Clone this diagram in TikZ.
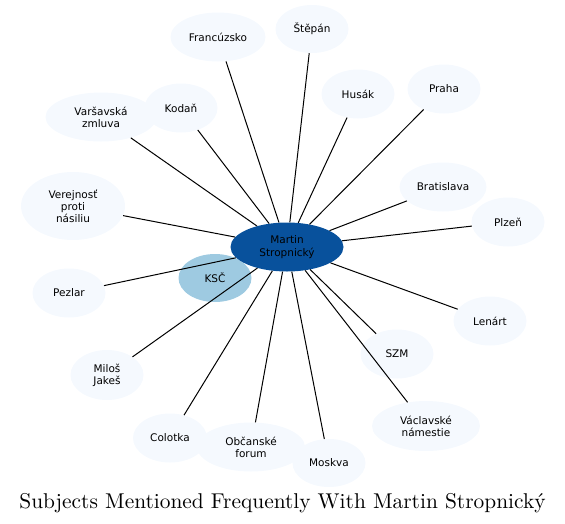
\documentclass[tikz,border=0pt]{standalone}
\usepackage{fontspec}
\setsansfont{DejaVu Sans}
\newfontfamily\titlefont{lmroman10-regular.otf}
\usetikzlibrary{shapes.geometric}
\definecolor{lightnode}{HTML}{F5F9FE}
\definecolor{midnode}{HTML}{9ECAE1}
\definecolor{darknode}{HTML}{08519C}
\tikzset{
  ent/.style={ellipse, draw=none, fill=lightnode, inner sep=0pt, align=center,
    font=\sffamily\fontsize{10.5}{12.2}\selectfont, text=black},
  link/.style={draw=black, line width=1pt}
}
\begin{document}
\begin{tikzpicture}[x=1pt,y=-1pt]
\useasboundingbox (0,0) rectangle (565,523);
\node[ent, fill=midnode, minimum width=73pt, minimum height=48pt] (ksc) at (215,278) {KSČ};
\node[ent, fill=darknode, minimum width=113pt, minimum height=49pt] (c) at (287,247) {Martin\\Stropnický};
\node[ent, minimum width=95pt, minimum height=49pt] (fr) at (218,37) {Francúzsko};
\node[ent, minimum width=73pt, minimum height=48pt] (st) at (312,29) {Štěpán};
\node[ent, minimum width=111pt, minimum height=49pt] (va) at (101,117) {Varšavská\\zmluva};
\node[ent, minimum width=73pt, minimum height=49pt] (ko) at (181,108) {Kodaň};
\node[ent, minimum width=104pt, minimum height=68pt] (ve) at (73,206) {Verejnosť\\proti\\násiliu};
\node[ent, minimum width=73pt, minimum height=49pt] (hu) at (358,94) {Husák};
\node[ent, minimum width=73pt, minimum height=49pt] (pr) at (444,89) {Praha};
\node[ent, minimum width=87pt, minimum height=49pt] (br) at (443,187) {Bratislava};
\node[ent, minimum width=73pt, minimum height=49pt] (pl) at (508,222) {Plzeň};
\node[ent, minimum width=73pt, minimum height=49pt] (pe) at (69,293) {Pezlar};
\node[ent, minimum width=73pt, minimum height=50pt] (mj) at (107,375) {Miloš\\Jakeš};
\node[ent, minimum width=74pt, minimum height=49pt] (co) at (170,438) {Colotka};
\node[ent, minimum width=108pt, minimum height=49pt] (of) at (251,447) {Občanské\\forum};
\node[ent, minimum width=73pt, minimum height=48pt] (mo) at (329,463) {Moskva};
\node[ent, minimum width=73pt, minimum height=49pt] (le) at (490,321) {Lenárt};
\node[ent, minimum width=73pt, minimum height=49pt] (sz) at (397,354) {SZM};
\node[ent, minimum width=108pt, minimum height=50pt] (vn) at (426,426) {Václavské\\námestie};
\foreach \n in {fr,st,va,ko,ve,hu,pr,br,pl,pe,mj,co,of,mo,le,sz,vn}
  \draw[link] (c) -- (\n);
\node[font=\titlefont\fontsize{21.4}{26}\selectfont, anchor=base, inner sep=0pt] (title) at (282.5,508) {Subjects Mentioned Frequently With Martin Stropnický};
\end{tikzpicture}
\end{document}
